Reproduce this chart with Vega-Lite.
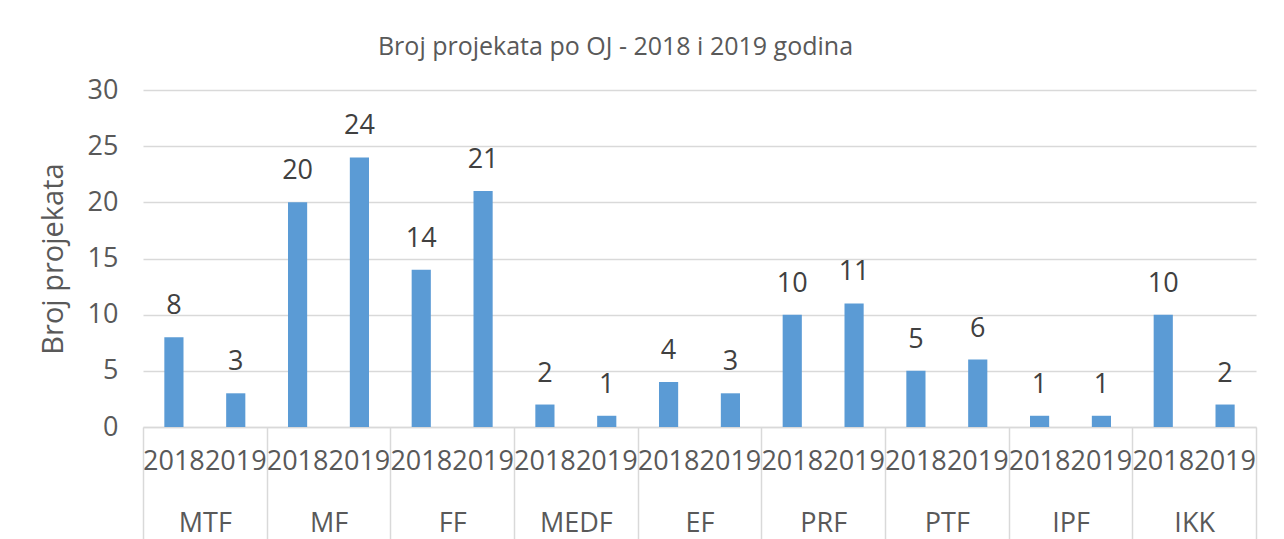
{
  "$schema": "https://vega.github.io/schema/vega-lite/v6.json",
  "autosize": {"type": "none"},
  "width": 1113,
  "height": 337,
  "padding": {"left": 143, "top": 90, "right": 28, "bottom": 112},
  "background": "white",
  "config": {
    "view": {"stroke": null},
    "font": "Open Sans",
    "axis": {"labelFont": "Open Sans", "titleFont": "Open Sans", "labelColor": "#595959", "titleColor": "#595959"}
  },
  "title": {
    "text": "Broj projekata po OJ - 2018 i 2019 godina",
    "font": "Open Sans",
    "fontSize": 25,
    "fontWeight": "normal",
    "color": "#595959",
    "anchor": "middle",
    "dx": -84,
    "dy": 36,
    "baseline": "alphabetic",
    "offset": 32
  },
  "data": {
    "values": [
      {"oj": "MTF", "godina": "2018", "key": "MTF|2018", "broj": 8},
      {"oj": "MTF", "godina": "2019", "key": "MTF|2019", "broj": 3},
      {"oj": "MF", "godina": "2018", "key": "MF|2018", "broj": 20},
      {"oj": "MF", "godina": "2019", "key": "MF|2019", "broj": 24},
      {"oj": "FF", "godina": "2018", "key": "FF|2018", "broj": 14},
      {"oj": "FF", "godina": "2019", "key": "FF|2019", "broj": 21},
      {"oj": "MEDF", "godina": "2018", "key": "MEDF|2018", "broj": 2},
      {"oj": "MEDF", "godina": "2019", "key": "MEDF|2019", "broj": 1},
      {"oj": "EF", "godina": "2018", "key": "EF|2018", "broj": 4},
      {"oj": "EF", "godina": "2019", "key": "EF|2019", "broj": 3},
      {"oj": "PRF", "godina": "2018", "key": "PRF|2018", "broj": 10},
      {"oj": "PRF", "godina": "2019", "key": "PRF|2019", "broj": 11},
      {"oj": "PTF", "godina": "2018", "key": "PTF|2018", "broj": 5},
      {"oj": "PTF", "godina": "2019", "key": "PTF|2019", "broj": 6},
      {"oj": "IPF", "godina": "2018", "key": "IPF|2018", "broj": 1},
      {"oj": "IPF", "godina": "2019", "key": "IPF|2019", "broj": 1},
      {"oj": "IKK", "godina": "2018", "key": "IKK|2018", "broj": 10},
      {"oj": "IKK", "godina": "2019", "key": "IKK|2019", "broj": 2}
    ]
  },
  "layer": [
    {
      "layer": [
        {
          "mark": {"type": "bar", "color": "#5B9BD5"},
          "encoding": {
            "x": {
              "field": "key", "type": "nominal", "sort": null,
              "scale": {"paddingInner": 0.69, "paddingOuter": 0.345},
              "axis": {
                "title": null, "orient": "bottom", "domain": false, "ticks": false,
                "labelAngle": 0, "labelFontSize": 27, "labelPadding": 34, "labelBaseline": "middle",
                "labelExpr": "split(datum.value, '|')[1]", "labelOverlap": false, "labelFlush": false
              }
            },
            "y": {
              "field": "broj", "type": "quantitative",
              "scale": {"domain": [0, 30]},
              "axis": {
                "title": "Broj projekata", "titleFontSize": 29, "titleFontWeight": "normal", "titlePadding": 19,
                "values": [0, 5, 10, 15, 20, 25, 30], "domain": false, "ticks": false,
                "labelFontSize": 27, "labelPadding": 25, "gridColor": "#D9D9D9", "gridWidth": 1.5
              }
            }
          }
        },
        {
          "mark": {"type": "text", "baseline": "alphabetic", "dy": -23, "fontSize": 27, "color": "#404040", "font": "Open Sans"},
          "encoding": {
            "x": {"field": "key", "type": "nominal", "sort": null},
            "y": {"field": "broj", "type": "quantitative"},
            "text": {"field": "broj", "type": "quantitative"}
          }
        }
      ]
    },
    {
      "mark": {"type": "rule", "strokeOpacity": 0},
      "encoding": {
        "x": {
          "field": "oj", "type": "nominal", "sort": null,
          "scale": {"paddingInner": 0, "paddingOuter": 0},
          "axis": {
            "title": null, "orient": "bottom", "domain": true, "domainColor": "#D9D9D9", "domainWidth": 1.5,
            "ticks": true, "tickBand": "extent", "tickSize": 112, "tickColor": "#D9D9D9", "tickWidth": 1.5,
            "labelAngle": 0, "labelFontSize": 27, "labelPadding": -16, "labelBaseline": "middle"
          }
        }
      }
    }
  ],
  "resolve": {"scale": {"x": "independent"}, "axis": {"x": "independent"}}
}
